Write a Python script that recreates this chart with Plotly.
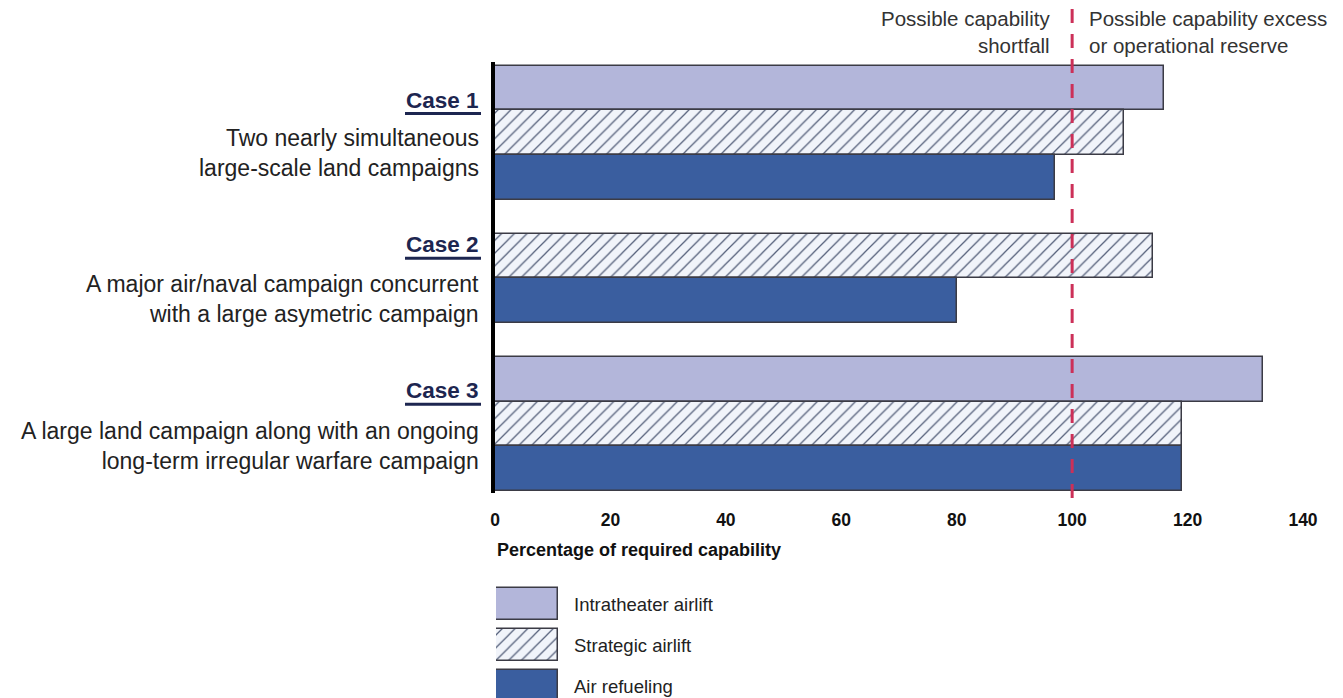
import plotly.graph_objects as go

# ---- data -------------------------------------------------------------
cases = ["Case 1", "Case 2", "Case 3"]
descriptions = [
    "Two nearly simultaneous<br>large-scale land campaigns",
    "A major air/naval campaign concurrent<br>with a large asymetric campaign",
    "A large land campaign along with an ongoing<br>long-term irregular warfare campaign",
]
series_names = ["Intratheater airlift", "Strategic airlift", "Air refueling"]
intratheater = [116, None, 133]
strategic = [109, 114, 119]
refueling = [97, 80, 119]
x_ticks = [0, 20, 40, 60, 80, 100, 120, 140]
threshold = 100

# ---- layout helpers ---------------------------------------------------
FONT = "Arial, 'Liberation Sans', sans-serif"
W, H = 1343, 698
LEFT, RIGHT = 495, 40
PLOT_W = W - LEFT - RIGHT

def px_x(p):
    return (p - LEFT) / PLOT_W

def px_y(p):
    return 1 - p / H

# vertical slot for each bar: a gap of 0.75 slot separates cases
case_start = [0.0, 3.75, 6.5]
series_vals = [intratheater, strategic, refueling]
positions = [[], [], []]
for ci, start in enumerate(case_start):
    k = 0
    for si in range(3):
        if series_vals[si][ci] is None:
            positions[si].append(None)
        else:
            positions[si].append(start + k)
            k += 1

LIGHT = "#b3b6da"
DARK = "#3a5e9f"
EDGE = "#3b3b45"
HATCH_FG = "#55607a"
HATCH_BG = "#f1f4fa"

def marker_for(si):
    if si == 0:
        return dict(color=LIGHT, line=dict(color=EDGE, width=1.5))
    if si == 1:
        return dict(color=HATCH_BG, line=dict(color=EDGE, width=1.5),
                    pattern=dict(shape="/", fgcolor=HATCH_FG, bgcolor=HATCH_BG,
                                 size=9, solidity=0.14, fillmode="replace"))
    return dict(color=DARK, line=dict(color=EDGE, width=1.5))

fig = go.Figure()

for si, name in enumerate(series_names):
    xs = [v for v in series_vals[si] if v is not None]
    ys = [p for p in positions[si] if p is not None]
    fig.add_trace(go.Bar(
        x=xs, y=ys, orientation="h", width=1.0, name=name,
        marker=marker_for(si), showlegend=False, hoverinfo="skip",
        xaxis="x", yaxis="y",
    ))
    # legend swatch drawn on its own small axis
    fig.add_trace(go.Bar(
        x=[1], y=[si], orientation="h", width=0.78, name=name,
        marker=marker_for(si), showlegend=False, hoverinfo="skip",
        xaxis="x2", yaxis="y2",
    ))

annotations = []
shapes = []

# case titles and descriptions, left of the axis
title_y = [0.27, 3.5, 6.76]
desc_y = [1.45, 4.71, 7.99]
for ci, case in enumerate(cases):
    annotations.append(dict(
        x=px_x(481), y=title_y[ci], xref="paper", yref="y",
        text="<b>%s</b>" % case, showarrow=False, xanchor="right", yanchor="middle",
        font=dict(family=FONT, size=22.5, color="#1d2650"),
    ))
    annotations.append(dict(
        x=px_x(481), y=desc_y[ci], xref="paper", yref="y",
        text=descriptions[ci], showarrow=False, xanchor="right", yanchor="middle",
        align="right", font=dict(family=FONT, size=23, color="#222222"),
    ))
    # thick underline under each case title
    shapes.append(dict(
        type="line", xref="paper", yref="y",
        x0=px_x(405), x1=px_x(481), y0=title_y[ci] + 0.3, y1=title_y[ci] + 0.3,
        line=dict(color="#1d2650", width=3),
    ))

# threshold labels
annotations.append(dict(
    x=px_x(1052), y=px_y(32), xref="paper", yref="paper",
    text="Possible capability<br>shortfall", showarrow=False,
    xanchor="right", yanchor="middle", align="right",
    font=dict(family=FONT, size=20.5, color="#333333"),
))
annotations.append(dict(
    x=px_x(1087), y=px_y(32), xref="paper", yref="paper",
    text="Possible capability excess<br>or operational reserve", showarrow=False,
    xanchor="left", yanchor="middle", align="left",
    font=dict(family=FONT, size=20.5, color="#333333"),
))

# axis title
annotations.append(dict(
    x=0, y=px_y(550), xref="paper", yref="paper",
    text="<b>Percentage of required capability</b>", showarrow=False,
    xanchor="left", yanchor="middle",
    font=dict(family=FONT, size=18, color="#111111"),
))

# legend labels
for si, name in enumerate(series_names):
    annotations.append(dict(
        x=px_x(572), y=si, xref="paper", yref="y2",
        text=name, showarrow=False, xanchor="left", yanchor="middle",
        font=dict(family=FONT, size=18.5, color="#222222"),
    ))

# dashed threshold line at 100%
shapes.append(dict(
    type="line", xref="x", yref="paper", x0=threshold, x1=threshold,
    y0=px_y(498), y1=px_y(9), layer="above",
    line=dict(color="#cc3058", width=3, dash="14px,11px"),
))

slot = 44.8
top_px, bot_px = 62, 493
y_top = (top_px - 88) / slot
y_bot = (bot_px - 88) / slot

leg_top, leg_bot = 584, 698
leg_slot = 41
l_top = (leg_top - 604) / leg_slot
l_bot = (leg_bot - 604) / leg_slot

fig.update_layout(
    width=W, height=H,
    margin=dict(l=LEFT, r=RIGHT, t=0, b=0),
    paper_bgcolor="white", plot_bgcolor="white",
    barmode="overlay", bargap=0,
    font=dict(family=FONT),
    xaxis=dict(
        domain=[0, 1], range=[0, 140], tickvals=x_ticks,
        ticktext=["<b>%d</b>" % t for t in x_ticks],
        showgrid=False, zeroline=False, showline=False,
        ticks="outside", ticklen=11, tickcolor="rgba(0,0,0,0)",
        tickfont=dict(family=FONT, size=17.5, color="#111111"),
        anchor="y", fixedrange=True,
    ),
    yaxis=dict(
        domain=[px_y(bot_px), px_y(top_px)], range=[y_bot, y_top],
        showgrid=False, zeroline=False, showticklabels=False, ticks="",
        showline=True, linecolor="#000000", linewidth=4,
        anchor="x", fixedrange=True,
    ),
    xaxis2=dict(
        domain=[px_x(496), px_x(558)], range=[0, 1], visible=False,
        anchor="y2", fixedrange=True,
    ),
    yaxis2=dict(
        domain=[px_y(leg_bot), px_y(leg_top)], range=[l_bot, l_top], visible=False,
        anchor="x2", fixedrange=True,
    ),
    annotations=annotations,
    shapes=shapes,
)

fig.write_html("out.html")
